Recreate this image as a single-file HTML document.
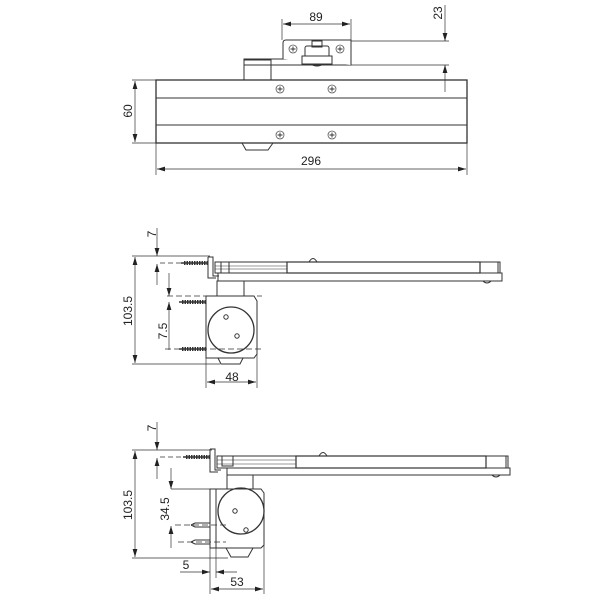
<!DOCTYPE html>
<html><head><meta charset="utf-8"><style>
html,body{margin:0;padding:0;background:#fff;}
svg{display:block;}
text{font-family:"Liberation Sans","DejaVu Sans",sans-serif;font-size:12px;fill:#222;}
</style></head><body>
<svg width="600" height="600" viewBox="0 0 600 600" xmlns="http://www.w3.org/2000/svg">
<defs>
<marker id="a" viewBox="0 0 10 6" refX="10" refY="3" markerWidth="8" markerHeight="5" orient="auto-start-reverse" markerUnits="userSpaceOnUse"><path d="M0,0L10,3L0,6z" fill="#222"/></marker>
<g id="scr"><circle r="4" fill="#fff" stroke="#555" stroke-width="0.8"/><path d="M-2.5,0H2.5M0,-2.5V2.5" stroke="#333" stroke-width="0.9"/></g>
<g id="wscrew"><line x1="0" y1="0" x2="24" y2="0" stroke="#333" stroke-width="4" stroke-dasharray="1.5 1"/><line x1="-3" y1="0" x2="24" y2="0" stroke="#333" stroke-width="1.4"/></g>
</defs>
<g fill="none" stroke="#333" stroke-width="1">
<rect x="156" y="80" width="311" height="63" stroke-width="1.3"/>
<line x1="156" y1="98" x2="467" y2="98"/>
<line x1="156" y1="125" x2="467" y2="125"/>
<path d="M242,143 L246,150 L268,150 L273,143"/>
<rect x="244" y="60" width="27" height="20"/>
<rect x="244" y="59" width="107" height="6"/>
<path d="M283,59 V43 Q283,40 286,40 H351 V65" fill="#fff"/>
<rect x="305" y="46" width="24" height="15" rx="2" fill="#fff"/>
<rect x="312" y="41" width="10" height="6"/>
<rect x="302" y="56" width="30" height="8" fill="#fff"/>
<path d="M310,64 Q317,68 324,64"/>
</g>
<use href="#scr" x="293" y="49"/><use href="#scr" x="340" y="49"/>
<use href="#scr" x="280" y="89"/><use href="#scr" x="332" y="89"/>
<use href="#scr" x="280" y="135"/><use href="#scr" x="332" y="135"/>
<g stroke="#333" stroke-width="0.7" fill="none">
<line x1="282" y1="40" x2="282" y2="19"/><line x1="351" y1="40" x2="351" y2="19"/>
<line x1="283" y1="24" x2="350" y2="24" marker-start="url(#a)" marker-end="url(#a)"/>
<line x1="351" y1="41" x2="449" y2="41"/><line x1="351" y1="65" x2="449" y2="65"/>
<line x1="445" y1="5" x2="445" y2="41" marker-end="url(#a)"/>
<line x1="445" y1="92" x2="445" y2="65" marker-end="url(#a)"/>
<line x1="132" y1="80" x2="156" y2="80"/><line x1="132" y1="143" x2="156" y2="143"/>
<line x1="135" y1="81" x2="135" y2="142" marker-start="url(#a)" marker-end="url(#a)"/>
<line x1="156" y1="143" x2="156" y2="175"/><line x1="467" y1="143" x2="467" y2="175"/>
<line x1="157" y1="169" x2="466" y2="169" marker-start="url(#a)" marker-end="url(#a)"/>
</g>
<text x="316" y="21" text-anchor="middle">89</text>
<text transform="translate(442,13) rotate(-90)" text-anchor="middle">23</text>
<text transform="translate(132,111) rotate(-90)" text-anchor="middle">60</text>
<text x="311" y="165" text-anchor="middle">296</text>

<g fill="none" stroke="#333" stroke-width="1">
<rect x="215" y="262" width="285" height="11"/>
<line x1="215" y1="266" x2="287" y2="266" stroke-width="0.6"/><line x1="215" y1="269" x2="287" y2="269" stroke-width="0.6"/>
<rect x="287" y="262" width="193" height="11" stroke-width="1.2"/>
<rect x="480" y="262" width="18" height="11"/>
<rect x="218" y="273" width="284" height="8"/>
<path d="M483,281 Q487,285 491,281"/>
<path d="M309,262 Q313,255 317,262"/>
<path d="M208,257 H213 V276 H219 M208,257 V278 H216"/>
<rect x="221" y="262" width="8" height="11"/>
<rect x="217" y="281" width="27" height="15"/>
<path d="M206,296 H254 L257,301 V354 L254,358 H206 Z"/>
<circle cx="231" cy="330" r="23" stroke-width="1.3"/>
<circle cx="226" cy="317" r="2.2"/><circle cx="237" cy="336" r="2.2"/>
<path d="M218,358 L221,364 H240 L243,358"/>
</g>
<use href="#wscrew" x="184" y="263"/>
<use href="#wscrew" x="182" y="302"/>
<use href="#wscrew" x="182" y="349"/>
<g stroke="#333" stroke-width="0.7" fill="none">
<line x1="132" y1="256" x2="210" y2="256"/><line x1="132" y1="364" x2="220" y2="364"/>
<line x1="135" y1="257" x2="135" y2="363" marker-start="url(#a)" marker-end="url(#a)"/>
<line x1="160" y1="263" x2="181" y2="263" stroke-dasharray="5 3"/>
<line x1="157" y1="228" x2="157" y2="256" marker-end="url(#a)"/>
<line x1="157" y1="285" x2="157" y2="264" marker-end="url(#a)"/>
<line x1="167" y1="296" x2="262" y2="296" stroke-dasharray="6 3"/>
<line x1="165" y1="349" x2="262" y2="349" stroke-dasharray="6 3"/>
<line x1="169" y1="273" x2="169" y2="296" marker-end="url(#a)"/>
<line x1="169" y1="350" x2="169" y2="302" marker-end="url(#a)"/>
<line x1="206" y1="358" x2="206" y2="388"/><line x1="257" y1="354" x2="257" y2="388"/>
<line x1="207" y1="382" x2="256" y2="382" marker-start="url(#a)" marker-end="url(#a)"/>
</g>
<text transform="translate(156,234) rotate(-90)" text-anchor="middle">7</text>
<text transform="translate(132,311) rotate(-90)" text-anchor="middle">103.5</text>
<text transform="translate(167,331) rotate(-90)" text-anchor="middle">7.5</text>
<text x="232" y="381" text-anchor="middle">48</text>

<g fill="none" stroke="#333" stroke-width="1">
<rect x="217" y="456" width="291" height="12"/>
<line x1="217" y1="460" x2="296" y2="460" stroke-width="0.6"/><line x1="217" y1="464" x2="296" y2="464" stroke-width="0.6"/>
<rect x="296" y="456" width="190" height="12" stroke-width="1.2"/>
<rect x="486" y="456" width="20" height="12"/>
<rect x="227" y="468" width="283" height="7"/>
<path d="M492,475 Q496,479 500,475"/>
<path d="M319,456 Q323,449 327,456"/>
<path d="M210,449 H215 V470 H221 M210,449 V472 H218"/>
<rect x="222" y="456" width="11" height="10"/>
<rect x="227" y="475" width="26" height="14"/>
<path d="M210,489 H261 L264,493 V545 L261,548 H210 Z"/>
<line x1="216" y1="489" x2="216" y2="548"/>
<circle cx="241" cy="511" r="23" stroke-width="1.3"/>
<circle cx="235" cy="511" r="2.2"/><circle cx="246" cy="530" r="2.2"/>
<path d="M226,548 L231,557 H248 L253,548"/>
<path d="M191,525 L195,523 H210 M191,525 L195,527 H210"/>
<path d="M191,542 L195,540 H210 M191,542 L195,544 H210"/>
</g>
<use href="#wscrew" x="186" y="457"/>
<g stroke="#333" stroke-width="0.7" fill="none">
<line x1="132" y1="450" x2="212" y2="450"/><line x1="132" y1="558" x2="228" y2="558"/>
<line x1="135" y1="451" x2="135" y2="557" marker-start="url(#a)" marker-end="url(#a)"/>
<line x1="160" y1="457" x2="183" y2="457" stroke-dasharray="5 3"/>
<line x1="157" y1="422" x2="157" y2="450" marker-end="url(#a)"/>
<line x1="157" y1="479" x2="157" y2="458" marker-end="url(#a)"/>
<line x1="171" y1="489" x2="210" y2="489"/>
<line x1="175" y1="525" x2="226" y2="525" stroke-dasharray="6 3"/>
<line x1="178" y1="542" x2="226" y2="542" stroke-dasharray="6 3"/>
<line x1="171" y1="468" x2="171" y2="489" marker-end="url(#a)"/>
<line x1="171" y1="548" x2="171" y2="526" marker-end="url(#a)"/>
<line x1="210" y1="548" x2="210" y2="594"/><line x1="216" y1="548" x2="216" y2="578"/><line x1="264" y1="545" x2="264" y2="594"/>
<line x1="180" y1="572" x2="210" y2="572" marker-end="url(#a)"/>
<line x1="237" y1="572" x2="216" y2="572" marker-end="url(#a)"/>
<line x1="211" y1="589" x2="263" y2="589" marker-start="url(#a)" marker-end="url(#a)"/>
</g>
<text transform="translate(156,428) rotate(-90)" text-anchor="middle">7</text>
<text transform="translate(132,505) rotate(-90)" text-anchor="middle">103.5</text>
<text transform="translate(169,509) rotate(-90)" text-anchor="middle">34.5</text>
<text x="186" y="569" text-anchor="middle">5</text>
<text x="237" y="586" text-anchor="middle">53</text>
</svg>
</body></html>
